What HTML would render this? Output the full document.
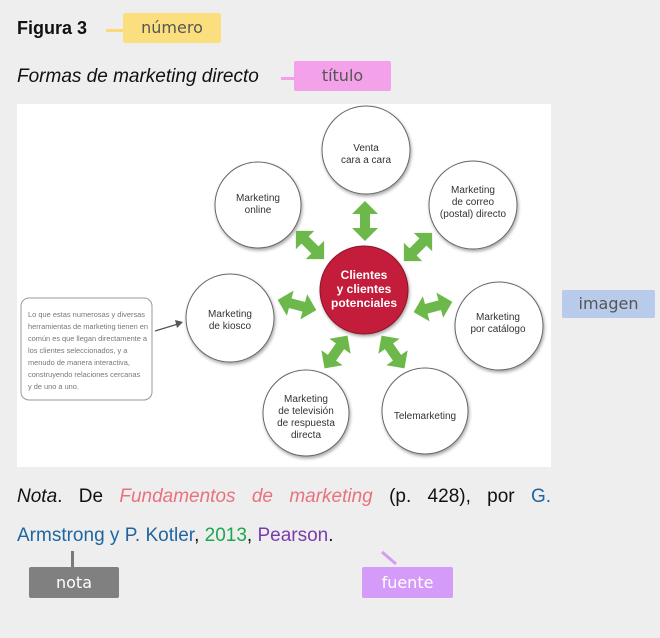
<!DOCTYPE html>
<html><head><meta charset="utf-8"><style>
html,body{margin:0;padding:0;background:#eeeeee;}
body{width:660px;height:638px;position:relative;overflow:hidden;font-family:"Liberation Sans","DejaVu Sans",sans-serif;}
.t{position:absolute;white-space:nowrap;}
.lab{position:absolute;border-radius:2px;text-align:center;font-size:16px;color:#555;font-family:"DejaVu Sans","Liberation Sans",sans-serif;}
</style></head><body>
<div class="t" style="left:17px;top:18px;font-size:18px;font-weight:bold;color:#111;">Figura 3</div>
<div style="position:absolute;left:106px;top:29px;width:18px;height:3px;background:#fbd97a;"></div>
<div class="lab" style="left:123px;top:13px;width:98px;height:30px;line-height:30px;background:#fbdf7e;">número</div>
<div class="t" style="left:17px;top:66px;font-size:19px;font-style:italic;color:#111;">Formas de marketing directo</div>
<div style="position:absolute;left:281px;top:77px;width:14px;height:3px;background:#f3a0e6;"></div>
<div class="lab" style="left:294px;top:61px;width:97px;height:30px;line-height:30px;background:#f3a2ea;">título</div>
<div class="lab" style="left:562px;top:290px;width:93px;height:28px;line-height:28px;background:#b8cbea;">imagen</div>

<svg style="position:absolute;left:17px;top:104px" width="534" height="363" viewBox="17 104 534 363">
<defs>
<filter id="sh" x="-20%" y="-20%" width="140%" height="140%"><feDropShadow dx="1" dy="2" stdDeviation="1.5" flood-color="#000" flood-opacity="0.35"/></filter>
<g id="ar"><polygon points="0,-20 13,-7 5,-7 5,7 13,7 0,20 -13,7 -5,7 -5,-7 -13,-7" fill="#6cb84a"/></g>
</defs>
<rect x="17" y="104" width="534" height="363" fill="#fff"/>
<rect x="21" y="298" width="131" height="102" rx="8" fill="#fff" stroke="#999" stroke-width="1"/>
<g font-family="Liberation Sans Narrow, Liberation Sans, sans-serif" font-size="7.4" fill="#777">
<text x="28" y="317" textLength="117">Lo que estas numerosas y diversas</text>
<text x="28" y="329" textLength="120">herramientas de marketing tienen en</text>
<text x="28" y="341" textLength="119">común es que llegan directamente a</text>
<text x="28" y="353">los clientes seleccionados, y a</text>
<text x="28" y="365">menudo de manera interactiva,</text>
<text x="28" y="377">construyendo relaciones cercanas</text>
<text x="28" y="389">y de uno a uno.</text>
</g>
<line x1="155" y1="331" x2="178" y2="324" stroke="#555" stroke-width="1.2"/>
<polygon points="183,322 175,320 177,328" fill="#555"/>
<g fill="#fff" stroke="#666" stroke-width="1" filter="url(#sh)">
<circle cx="366" cy="150" r="44"/>
<circle cx="258" cy="205" r="43"/>
<circle cx="473" cy="205" r="44"/>
<circle cx="230" cy="318" r="44"/>
<circle cx="499" cy="326" r="44"/>
<circle cx="306" cy="413" r="43"/>
<circle cx="425" cy="411" r="43"/>
<circle cx="364" cy="290" r="44" fill="#c41e3a" stroke="#8a1226"/>
</g>
<use href="#ar" transform="translate(365,221)"/>
<use href="#ar" transform="translate(310,245) rotate(-45)"/>
<use href="#ar" transform="translate(418,247) rotate(45)"/>
<use href="#ar" transform="translate(297,305) rotate(-75)"/>
<use href="#ar" transform="translate(433,307) rotate(75)"/>
<use href="#ar" transform="translate(336,352) rotate(35)"/>
<use href="#ar" transform="translate(393,352) rotate(-35)"/>
<g font-family="Liberation Sans, sans-serif" font-size="10" fill="#333" text-anchor="middle">
<text x="366" y="151">Venta</text><text x="366" y="163">cara a cara</text>
<text x="258" y="201">Marketing</text><text x="258" y="213">online</text>
<text x="473" y="193">Marketing</text><text x="473" y="205">de correo</text><text x="473" y="217">(postal) directo</text>
<text x="230" y="317">Marketing</text><text x="230" y="329">de kiosco</text>
<text x="498" y="320">Marketing</text><text x="498" y="332">por catálogo</text>
<text x="306" y="402">Marketing</text><text x="306" y="414">de televisión</text><text x="306" y="426">de respuesta</text><text x="306" y="438">directa</text>
<text x="425" y="419">Telemarketing</text>
</g>
<g font-family="Liberation Sans, sans-serif" font-size="12" font-weight="bold" fill="#fff" text-anchor="middle">
<text x="364" y="279">Clientes</text><text x="364" y="293">y clientes</text><text x="364" y="307">potenciales</text>
</g>
</svg>

<div style="position:absolute;left:17px;top:486px;width:534px;font-size:19px;color:#111;text-align:justify;text-align-last:justify;white-space:nowrap;"><i>Nota</i>. De <i style="color:#e8727f">Fundamentos</i> <i style="color:#e8727f">de</i> <i style="color:#e8727f">marketing</i> (p. 428), por <span style="color:#1f66a0">G.</span></div>
<div class="t" style="left:17px;top:525px;font-size:19px;color:#111;"><span style="color:#1f66a0">Armstrong y P. Kotler</span>, <span style="color:#1aa84e">2013</span>, <span style="color:#7a3cad">Pearson</span>.</div>
<div style="position:absolute;left:71px;top:551px;width:3px;height:16px;background:#7a7a7a;"></div>
<div class="lab" style="left:29px;top:567px;width:90px;height:31px;line-height:31px;background:#808080;color:#fff;">nota</div>
<svg style="position:absolute;left:376px;top:550px" width="30" height="20"><line x1="6" y1="2" x2="20" y2="14" stroke="#d59bf5" stroke-width="3"/></svg>
<div class="lab" style="left:362px;top:567px;width:91px;height:31px;line-height:31px;background:#d59bf8;color:#fff;">fuente</div>
</body></html>
